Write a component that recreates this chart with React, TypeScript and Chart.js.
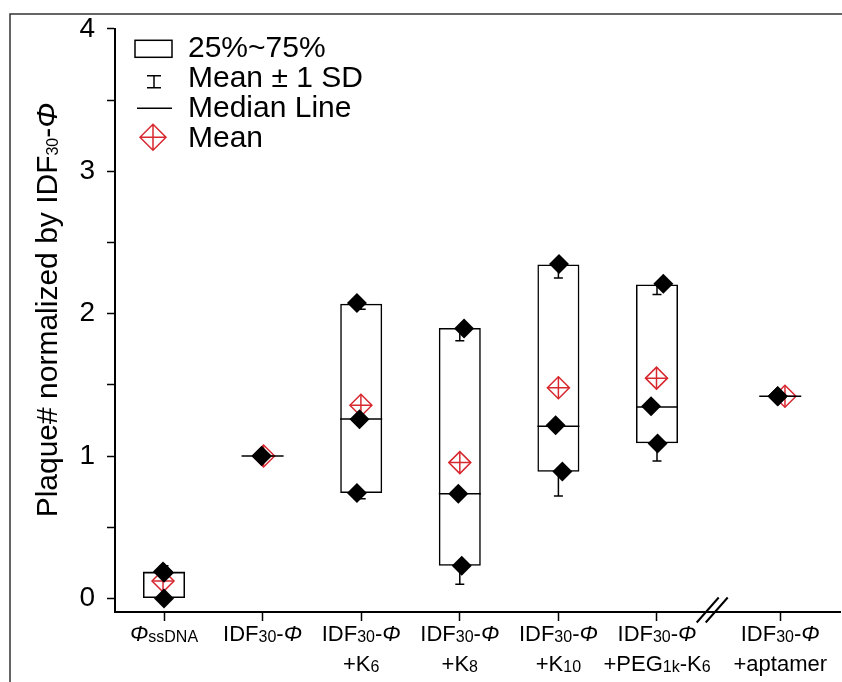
import React, { useEffect, useRef } from 'react';
import { Chart, registerables } from 'chart.js';

Chart.register(...registerables);

// ---------- data ----------
const categoryPositions = [0, 1, 2, 3, 4, 5, 6.25];
const tickLabels: string[][] = [
  ['Φ{ssDNA}'],
  ['IDF{30}-Φ'],
  ['IDF{30}-Φ', '+K{6}'],
  ['IDF{30}-Φ', '+K{8}'],
  ['IDF{30}-Φ', '+K{10}'],
  ['IDF{30}-Φ', '+PEG{1k}-K{6}'],
  ['IDF{30}-Φ', '+aptamer'],
];
const boxLow = [0, 1, 0.74, 0.23, 0.89, 1.09, 1.42];
const boxHigh = [0.19, 1, 2.07, 1.9, 2.345, 2.205, 1.42];
const medians = [0.18, 1, 1.26, 0.735, 1.21, 1.345, 1.42];
const means = [0.123, 1, 1.357, 0.954, 1.48, 1.547, 1.42];
const meanX = [-0.01, 1.01, 1.997, 3.0, 4.0, 4.995, 6.298];
const sdLow: (number | null)[] = [0.02, null, 0.7, 0.1, 0.72, 0.965, null];
const sdHigh: (number | null)[] = [0.23, null, 2.03, 1.81, 2.25, 2.135, null];
const pointValues = [
  [0.19, 0.18, 0],
  [1, 1, 1],
  [2.075, 1.258, 0.74],
  [1.896, 0.736, 0.23],
  [2.349, 1.217, 0.891],
  [2.21, 1.349, 1.088],
  [1.42, 1.42, 1.42],
];
const pointX = [
  [-0.01, 0, 0],
  [0.99, 0.99, 0.99],
  [1.957, 1.983, 1.957],
  [3.043, 2.985, 3.02],
  [4.006, 3.972, 4.04],
  [5.064, 4.94, 5.006],
  [6.224, 6.224, 6.224],
];
const yTickValues = [0, 0.5, 1, 1.5, 2, 2.5, 3, 3.5, 4];
const yMin = -0.095;
const yMax = 4;
const xMin = -0.497;
const xMax = 6.856;
const breakAt = 5.56;
const yTitle = 'Plaque# normalized by IDF{30}-Φ';
const legendLabels = ['25%~75%', 'Mean ± 1 SD', 'Median Line', 'Mean'];

// ---------- styles ----------
const RED = '#d7282f';
const FONT = '"Liberation Sans", Arial, Helvetica, sans-serif';

type Seg = { t: string; sub?: boolean; it?: boolean };
function parseRich(s: string): Seg[] {
  const segs: Seg[] = [];
  const re = /\{([^}]*)\}|([^{]+)/g;
  let m: RegExpExecArray | null;
  while ((m = re.exec(s))) {
    if (m[1] !== undefined) segs.push({ t: m[1], sub: true });
    else {
      for (const part of m[2].split(/(Φ)/)) if (part) segs.push({ t: part, it: part === 'Φ' });
    }
  }
  return segs;
}
function drawRich(ctx: CanvasRenderingContext2D, s: string, cx: number, baseline: number, size: number, subSize: number) {
  const segs = parseRich(s);
  const fontOf = (seg: Seg) => `${seg.it ? 'italic ' : ''}${seg.sub ? subSize : size}px ${FONT}`;
  let w = 0;
  for (const seg of segs) {
    ctx.font = fontOf(seg);
    w += ctx.measureText(seg.t).width;
  }
  let xx = cx - w / 2;
  ctx.textAlign = 'left';
  ctx.textBaseline = 'alphabetic';
  for (const seg of segs) {
    ctx.font = fontOf(seg);
    ctx.fillText(seg.t, xx, baseline + (seg.sub ? 1 : 0));
    xx += ctx.measureText(seg.t).width;
  }
}

const decor = {
  id: 'decor',
  beforeDraw(chart: any) {
    const ctx = chart.ctx as CanvasRenderingContext2D;
    ctx.save();
    ctx.strokeStyle = '#333';
    ctx.lineWidth = 1.5;
    ctx.beginPath();
    ctx.moveTo(10, 682);
    ctx.lineTo(10, 14);
    ctx.lineTo(842, 14);
    ctx.stroke();
    ctx.restore();
  },
  afterDraw(chart: any) {
    const ctx = chart.ctx as CanvasRenderingContext2D;
    const ca = chart.chartArea;
    const x = chart.scales.x;
    ctx.save();
    ctx.fillStyle = '#000';
    // category labels
    categoryPositions.forEach((p, i) => {
      const px = x.getPixelForValue(p);
      tickLabels[i].forEach((line, j) => drawRich(ctx, line, px, ca.bottom + 28.5 + 30 * j, 22, 16));
    });
    // y title
    ctx.save();
    ctx.translate(57, 310);
    ctx.rotate(-Math.PI / 2);
    drawRich(ctx, yTitle, 0, 0, 30, 16);
    ctx.restore();
    // axis break
    const bx = x.getPixelForValue(breakAt);
    const by = ca.bottom - 2;
    ctx.strokeStyle = '#000';
    ctx.lineWidth = 2;
    ctx.beginPath();
    for (const dx of [-4.5, 4.5]) {
      ctx.moveTo(bx + dx - 11, by + 12.5);
      ctx.lineTo(bx + dx + 11, by - 12.5);
    }
    ctx.stroke();
    // legend
    const lx = ca.left;
    const ly = ca.top;
    ctx.lineWidth = 1.5;
    ctx.strokeStyle = '#000';
    ctx.strokeRect(lx + 20, ly + 11.5, 37, 17);
    ctx.beginPath();
    ctx.moveTo(lx + 39, ly + 47);
    ctx.lineTo(lx + 39, ly + 59);
    ctx.moveTo(lx + 32, ly + 47);
    ctx.lineTo(lx + 46, ly + 47);
    ctx.moveTo(lx + 32, ly + 59);
    ctx.lineTo(lx + 46, ly + 59);
    ctx.moveTo(lx + 22, ly + 79.5);
    ctx.lineTo(lx + 57, ly + 79.5);
    ctx.stroke();
    const mx = lx + 38;
    const my = ly + 108.5;
    const r = 13;
    ctx.strokeStyle = RED;
    ctx.beginPath();
    ctx.moveTo(mx - r, my);
    ctx.lineTo(mx, my - r);
    ctx.lineTo(mx + r, my);
    ctx.lineTo(mx, my + r);
    ctx.closePath();
    ctx.moveTo(mx - r, my);
    ctx.lineTo(mx + r, my);
    ctx.moveTo(mx, my - r);
    ctx.lineTo(mx, my + r);
    ctx.stroke();
    ctx.font = `30px ${FONT}`;
    ctx.textAlign = 'left';
    ctx.textBaseline = 'alphabetic';
    ctx.fillStyle = '#000';
    legendLabels.forEach((t, i) => ctx.fillText(t, lx + 73, ly + 28.5 + 30 * i));
    ctx.restore();
  },
};

export default function App() {
  const ref = useRef<HTMLCanvasElement>(null);
  useEffect(() => {
    const points: { x: number; y: number }[] = [];
    pointValues.forEach((vals, i) => vals.forEach((v, j) => points.push({ x: pointX[i][j], y: v })));
    const medianData = categoryPositions.map((p, i) => ({ x: p, y: medians[i] }));
    const meanData = means.map((m, i) => ({ x: meanX[i], y: m }));
    const boxData = categoryPositions.map((p, i) => ({ x: p, y: [boxLow[i], boxHigh[i]] }));
    const whiskerData: any[] = [];
    const capData: { x: number; y: number }[] = [];
    categoryPositions.forEach((p, i) => {
      const hi = sdHigh[i];
      const lo = sdLow[i];
      if (hi !== null) {
        whiskerData.push({ x: p, y: [boxHigh[i], hi] });
        capData.push({ x: p, y: hi });
      }
      if (lo !== null) {
        whiskerData.push({ x: p, y: [boxLow[i], lo] });
        capData.push({ x: p, y: lo });
      }
    });

    const chart = new Chart(ref.current as HTMLCanvasElement, {
      type: 'scatter',
      data: {
        datasets: [
          {
            type: 'scatter',
            label: 'points',
            data: points,
            pointStyle: 'rectRot',
            pointRadius: 10,
            backgroundColor: '#000',
            borderColor: '#000',
            borderWidth: 0,
            order: 0,
          },
          {
            type: 'scatter',
            label: 'median',
            data: medianData,
            pointStyle: 'line',
            pointRadius: 21,
            borderColor: '#000',
            borderWidth: 1.5,
            order: 1,
          },
          {
            type: 'scatter',
            label: 'mean',
            data: meanData,
            pointStyle: 'rectRot',
            pointRadius: 11,
            backgroundColor: 'rgba(0,0,0,0)',
            borderColor: RED,
            borderWidth: 1.5,
            order: 2,
          },
          {
            type: 'scatter',
            label: 'meanCross',
            data: meanData,
            pointStyle: 'cross',
            pointRadius: 11,
            borderColor: RED,
            borderWidth: 1.5,
            order: 2,
          },
          {
            type: 'scatter',
            label: 'caps',
            data: capData,
            pointStyle: 'line',
            pointRadius: 4.5,
            borderColor: '#000',
            borderWidth: 1.5,
            order: 3,
          },
          {
            type: 'bar',
            label: 'whiskers',
            data: whiskerData,
            grouped: false,
            maxBarThickness: 1.5,
            backgroundColor: '#000',
            borderWidth: 0,
            order: 3,
          } as any,
          {
            type: 'bar',
            label: 'boxes',
            data: boxData,
            grouped: false,
            maxBarThickness: 42,
            backgroundColor: 'rgba(0,0,0,0)',
            borderColor: '#000',
            borderWidth: 1.5,
            borderSkipped: false,
            order: 4,
          } as any,
        ],
      },
      options: {
        responsive: false,
        animation: false,
        devicePixelRatio: 1,
        layout: { autoPadding: false, padding: { left: 0, top: 23.5, right: 2, bottom: 0 } },
        plugins: { legend: { display: false }, tooltip: { enabled: false } },
        scales: {
          x: {
            type: 'linear',
            min: xMin,
            max: xMax,
            offset: false,
            afterBuildTicks: (s: any) => {
              s.ticks = categoryPositions.map((v) => ({ value: v }));
            },
            afterFit: (s: any) => {
              s.height = 70;
            },
            ticks: { display: false, autoSkip: false },
            grid: { offset: false, drawOnChartArea: false, tickLength: 9, tickColor: '#000', tickWidth: 1.5 },
            border: { color: '#000', width: 2 },
          },
          y: {
            type: 'linear',
            min: yMin,
            max: yMax,
            afterBuildTicks: (s: any) => {
              s.ticks = yTickValues.map((v) => ({ value: v }));
            },
            afterFit: (s: any) => {
              s.width = 115;
            },
            ticks: {
              autoSkip: false,
              padding: 12,
              color: '#000',
              font: { family: FONT, size: 28 },
              callback: (v: any) => (Number.isInteger(Number(v)) ? String(v) : ''),
            },
            grid: { drawOnChartArea: false, tickLength: 8, tickColor: '#000', tickWidth: 1.5 },
            border: { color: '#000', width: 2 },
          },
        },
      } as any,
      plugins: [decor],
    });
    return () => chart.destroy();
  }, []);

  return (
    <div style={{ position: 'absolute', left: 0, top: 0, width: 842, height: 682, background: '#fff' }}>
      <canvas ref={ref} width={842} height={682} style={{ display: 'block' }} />
    </div>
  );
}
